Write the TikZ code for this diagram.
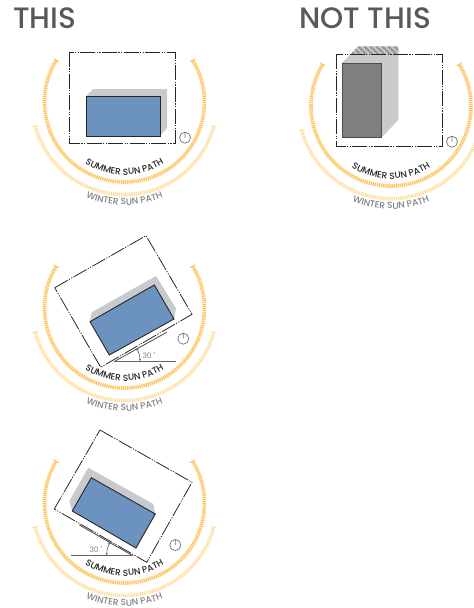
\documentclass[tikz,border=0pt]{standalone}
\usepackage{fontspec}
\setmainfont{Poppins}
\newfontfamily\medfont{Poppins Medium}
\usetikzlibrary{arrows.meta,decorations.text}
\definecolor{summersun}{HTML}{FFC258}
\definecolor{wintersun}{HTML}{FFDFA0}
\definecolor{titlegray}{HTML}{58595B}
\definecolor{shadowgray}{HTML}{C9CACB}
\definecolor{buildblue}{HTML}{6C93BF}
\definecolor{buildgray}{HTML}{7F7F7F}
\tikzset{every node/.style={font=\fontsize{8}{9}\selectfont},line join=round,
  sitebox/.style={line width=0.8pt,black!85,dash pattern=on 15pt off 1.4pt on 1.2pt off 1.4pt on 1.2pt off 1.4pt},
  shadowface/.style={fill=shadowgray,draw=none},
  blueface/.style={fill=buildblue,draw=black!85,line width=0.9pt},
  grayface/.style={fill=buildgray,draw=black!70,line width=0.7pt},
  sunstroke/.style={line width=3.6pt,dash pattern=on 1.3pt off 0.8pt},
  endtick/.style={line width=0.8pt},
  setback/.style={line width=0.8pt,black!70},
  angleline/.style={line width=0.8pt,black!60},
  anglearc/.style={line width=0.5pt,black!70,{Stealth[length=2.5pt]}-{Stealth[length=2.5pt]}},
  anglelabel/.style={text=black!50,font=\fontsize{7.5}{9}\selectfont},
  titletext/.style={text=titlegray,font=\medfont\fontsize{29.5}{32}\selectfont,anchor=base west,inner sep=0pt},
  pics/clockface/.style={code={
    \draw[line width=0.7pt,black!55] (0,0) circle[radius=5.5] (0,0)--(0,5.5);}},
  % the two arcs and their names, drawn round the middle of a panel
  pics/sunpaths/.style={code={
    \draw[sunstroke,summersun] (148.5:80) arc[start angle=148.5,end angle=391.5,radius=80];
    \draw[endtick,summersun] (148.5:77) -- (148.5:83) (31.5:77) -- (31.5:83);
    \draw[sunstroke,wintersun] (195:92.5) arc[start angle=195,end angle=345,radius=92.5];
    \draw[endtick,wintersun] (195:89.5) -- (195:95.5) (345:89.5) -- (345:95.5);
    \path[decorate,decoration={text along path,text align=center,
      text={|\medfont\fontsize{9}{9}\selectfont\color{black!85}|SUMMER SUN PATH}}]
      (205:73) arc[start angle=205,end angle=335,radius=73];
    \path[decorate,decoration={text along path,text align=center,
      text={|\medfont\fontsize{9}{9}\selectfont\color{black!50}|WINTER SUN PATH}}]
      (215:103) arc[start angle=215,end angle=325,radius=103];
  }}}

\begin{document}
\begin{tikzpicture}[x=1pt,y=1pt]
  \path[use as bounding box] (0,0) rectangle (474,-608);
  \node[titletext] (titlethis) at (13,-28) {THIS};
  \node[titletext] (titlenot) at (299,-28) {NOT THIS};

  % first panel
  \fill[shadowface] (86,-96)--(93,-89)--(167,-89)--(167,-128)--(160,-136)--cycle;
  \draw[blueface] (86,-96) rectangle (160,-136);
  \draw[sitebox] (69.5,-52) rectangle (175,-143);
  \pic at (185,-137.7) {clockface};
  \pic at (124.5,-102) {sunpaths};

  % the panel on the right
  \fill[shadowface] (342,-63)--(358.3,-46.3)--(398.3,-46.3)--(398.3,-120)--(381.7,-137.3)--cycle;
  \begin{scope}
    \clip (350,-54.3)--(358.3,-46.3)--(398.3,-46.3)--(398.3,-54.3)--cycle;
    \foreach \xs in {340,346,...,400}
      \draw[line width=2.4pt,black!40] (\xs,-46)--(\xs+9,-55);
  \end{scope}
  \draw[grayface] (342,-63) rectangle (381.7,-137.3);
  \draw[sitebox] (336,-54.3) rectangle (442.3,-146);
  \pic at (452,-141.7) {clockface};
  \pic at (391,-106) {sunpaths};

  % second panel
  \fill[shadowface] (90,-321.7)--(91.7,-312.3)--(156,-276)--(176,-308.3)--(174,-319)--cycle;
  \draw[blueface] (90,-321.7)--(154.3,-285)--(174,-319)--(109.3,-355)--cycle;
  \draw[sitebox] (54.7,-287.7)--(146,-235.7)--(192,-314.3)--(100.7,-367.3)--cycle;
  \coordinate (rota) at (114,-361.7);
  \draw[setback] (rota)--(166.7,-332.3);
  \draw[angleline] (rota)--(176,-361.7);
  \draw[anglearc] (140,-361.2) arc[start angle=0,end angle=30,radius=26];
  \node[anglelabel] (rotalabel) at (149,-355.7) {30 ˚};
  \pic at (183.3,-338.7) {clockface};
  \pic at (124.5,-308) {sunpaths};

  % third panel
  \fill[shadowface] (72.3,-511)--(69.3,-501)--(88.3,-467.7)--(153.3,-504)--(155.3,-514)--cycle;
  \draw[blueface] (91.3,-477.7)--(155.3,-514)--(136,-548)--(72.3,-511)--cycle;
  \draw[sitebox] (100,-430)--(192,-482.3)--(146.7,-562.3)--(54.3,-509)--cycle;
  \coordinate (rotb) at (132.7,-555.7);
  \draw[setback] (79.3,-525)--(rotb);
  \draw[angleline] (70.7,-555.7)--(rotb);
  \draw[anglearc] (106.7,-555.2) arc[start angle=180,end angle=150,radius=26];
  \node[anglelabel] (rotblabel) at (96,-549.3) {30 ˚};
  \pic at (175.3,-545) {clockface};
  \pic at (124.5,-503) {sunpaths};
\end{tikzpicture}
\end{document}
